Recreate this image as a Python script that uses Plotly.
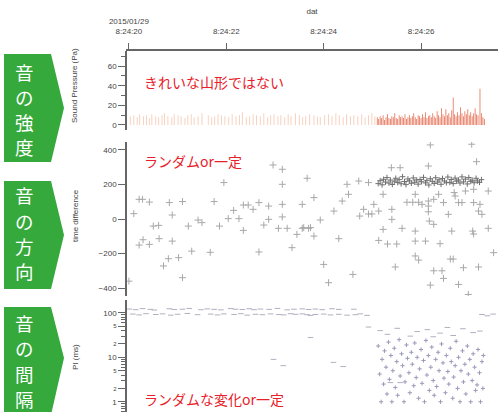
import plotly.graph_objects as go

# ---------------- data ----------------
tick_pos = [20, 22, 24, 26]
tick_labels = ["2015/01/29<br>8:24:20", "8:24:22", "8:24:24", "8:24:26"]

# Sound pressure (Pa) bars, seconds after 8:24:00
sp_t_light = [20.03, 20.10, 20.17, 20.22, 20.30, 20.36, 20.42, 20.47, 20.55, 20.61,
              20.68, 20.73, 20.80, 20.88, 20.93, 21.01, 21.07, 21.15, 21.21, 21.28,
              21.34, 21.42, 21.50, 21.63, 21.70, 21.76, 21.83, 21.90, 21.97, 22.05,
              22.12, 22.20, 22.27, 22.33, 22.41, 22.48, 22.55, 22.62, 22.70, 22.77,
              22.85, 22.91, 22.98, 23.06, 23.12, 23.20, 23.27, 23.33, 23.42, 23.50,
              23.57, 23.63, 23.71, 23.80, 23.87, 23.93, 24.02, 24.10, 24.17, 24.25,
              24.32, 24.40, 24.47, 24.55, 24.62, 24.70, 24.78, 24.85, 24.92, 24.99,
              25.05]
sp_h_light = [9, 10, 8, 11, 9, 10, 7, 11, 9, 8,
              10, 12, 9, 8, 11, 10, 9, 7, 10, 11,
              8, 9, 12, 10, 8, 9, 11, 10, 9, 8,
              11, 9, 10, 13, 8, 9, 11, 10, 9, 12,
              8, 10, 11, 9, 10, 8, 11, 9, 12, 10,
              8, 9, 11, 10, 9, 8, 10, 11, 9, 12,
              10, 8, 11, 9, 10, 9, 11, 8, 10, 12,
              9]
sp_t_dark = [25.10, 25.13, 25.16, 25.19, 25.22, 25.25, 25.28, 25.31, 25.34, 25.37,
             25.40, 25.43, 25.46, 25.49, 25.52, 25.55, 25.58, 25.61, 25.64, 25.67,
             25.70, 25.73, 25.76, 25.79, 25.82, 25.85, 25.88, 25.91, 25.94, 25.97,
             26.00, 26.03, 26.06, 26.09, 26.12, 26.15, 26.18, 26.21, 26.24, 26.27,
             26.30, 26.33, 26.36, 26.39, 26.42, 26.45, 26.48, 26.51, 26.54, 26.57,
             26.60, 26.63, 26.66, 26.69, 26.72, 26.75, 26.78, 26.81, 26.84, 26.87,
             26.90, 26.93, 26.96, 26.99, 27.02, 27.05, 27.08, 27.11, 27.14, 27.17,
             27.21, 27.24, 27.27, 27.30]
sp_h_dark = [8, 6, 9, 7, 10, 5, 8, 11, 7, 6,
             9, 8, 12, 7, 6, 10, 8, 9, 7, 11,
             6, 8, 10, 7, 9, 12, 8, 6, 10, 9,
             7, 11, 8, 13, 7, 9, 10, 8, 12, 9,
             7, 14, 10, 8, 17, 11, 9, 16, 10, 12,
             8, 15, 28, 11, 9, 13, 10, 18, 12, 9,
             14, 11, 16, 10, 13, 9, 12, 17, 11, 10,
             37, 12, 8, 6]

# time difference (scattered)
td_t = [20.00, 20.10, 20.21, 20.28, 20.42, 20.21, 20.29, 20.42, 20.50, 20.61,
        20.62, 20.83, 20.89, 20.89, 20.81, 20.71, 21.02, 21.10, 21.10, 21.22,
        21.29, 21.42, 21.50, 21.67, 21.75, 21.86, 21.95, 22.04, 22.15, 22.26,
        22.35, 22.35, 22.45, 22.55, 22.67, 22.67, 22.77, 22.87, 22.87, 22.96,
        23.07, 23.15, 23.15, 23.15, 23.15, 23.25, 23.35, 23.45, 23.56, 23.56,
        23.66, 23.69, 26.19, 27.04, 25.39, 25.57, 26.15, 27.14, 24.48, 24.72,
        24.92, 23.80, 24.51, 24.38, 24.21, 24.82, 24.74, 24.92, 24.99, 25.03,
        25.13, 25.22, 25.40, 25.40, 25.71, 25.83, 25.95, 25.88, 26.02, 26.15,
        26.15, 26.15, 26.17, 26.26, 26.36, 26.46, 26.56, 26.68, 26.70, 26.77,
        26.84, 26.91, 27.08, 27.08, 27.21, 27.18, 27.25, 27.38, 23.93, 23.59,
        23.73, 23.80, 24.31, 25.22, 25.61, 25.88, 26.26, 26.63, 27.06, 27.08,
        27.38, 25.13, 25.31, 25.50, 25.88, 26.09, 26.39, 25.88, 25.95, 26.60,
        26.66, 27.49, 24.00, 24.60, 25.47, 26.26, 26.43, 26.87, 27.18, 24.10,
        26.19, 26.46, 26.77, 26.97]
td_v = [-360, 31, 114, 114, 98, -151, -120, -147, -41, -37,
        -114, 95, 23, -128, -230, -272, -224, 101, -340, -41,
        -186, -6, -21, -193, 101, -41, 211, 2, 50, 2,
        81, -66, 81, 56, 95, -191, -35, 75, -2, 313,
        -54, 288, 201, 85, 12, -54, -166, -89, 85, -54,
        236, -54, 429, 433, 297, 297, 307, 332, 201, 220,
        211, 124, 143, 104, 46, 56, 17, 29, 29, 85,
        46, 143, 56, -2, 97, 97, 97, 143, 85, 104,
        75, 42, -12, 114, 143, 95, 27, 153, 133, 95,
        95, 162, 172, 95, 85, 46, 27, 162, -6, -50,
        -50, -99, -114, -60, -54, -70, -31, -70, -70, -87,
        -54, -124, -145, -145, -128, -128, -143, -214, -238, -232,
        -232, -195, -263, -321, -278, -300, -300, -282, -278, -369,
        -383, -344, -379, -437]

# time difference (dense band)
tdb_t = [25.12, 25.16, 25.20, 25.23, 25.27, 25.30, 25.34, 25.37, 25.41, 25.45,
         25.48, 25.52, 25.55, 25.59, 25.62, 25.66, 25.69, 25.73, 25.76, 25.80,
         25.84, 25.87, 25.91, 25.94, 25.98, 26.01, 26.05, 26.09, 26.12, 26.16,
         26.19, 26.23, 26.27, 26.30, 26.34, 26.37, 26.41, 26.44, 26.48, 26.52,
         26.55, 26.59, 26.62, 26.66, 26.70, 26.73, 26.77, 26.80, 26.84, 26.87,
         26.91, 26.95, 26.98, 27.02, 27.05, 27.09, 27.13, 27.16, 27.20, 27.24]
tdb_v = [205, 222, 198, 230, 214, 240, 208, 226, 200, 219,
         236, 211, 228, 204, 245, 217, 199, 232, 221, 207,
         238, 213, 226, 202, 229, 216, 241, 209, 224, 197,
         233, 218, 206, 239, 214, 227, 201, 235, 220, 210,
         243, 212, 229, 205, 237, 219, 226, 208, 244, 215,
         231, 203, 240, 218, 225, 210, 236, 220, 212, 228]

# pulse interval PI (ms)
pi_t = [20.01, 20.14, 20.28, 20.44, 20.52, 20.83, 20.93, 21.10, 21.24, 21.48,
        21.61, 21.75, 21.89, 22.09, 22.19, 22.33, 22.47, 22.57, 22.70, 22.88,
        23.05, 23.25, 23.39, 23.56, 23.69, 23.83, 23.97, 24.17, 24.31, 24.62,
        20.08, 20.21, 20.35, 20.55, 20.69, 20.86, 21.00, 21.20, 21.41, 21.68,
        21.82, 21.95, 22.16, 22.30, 22.43, 22.60, 22.74, 22.91, 23.08, 23.18,
        23.32, 23.42, 23.66, 23.56, 23.73, 23.83, 24.00, 24.14, 24.31, 24.48,
        24.65, 24.75, 24.89, 27.25, 27.36, 27.48,
        22.97, 23.17, 24.20, 24.40, 23.73, 25.37, 25.57,
        24.92, 25.16, 25.31, 25.51, 25.78, 25.92, 26.13, 26.25, 26.39, 26.54,
        26.66, 26.86, 27.07, 27.21]
pi_v = [122, 118, 125, 120, 116, 124, 119, 121, 126, 118,
        123, 120, 117, 125, 121, 119, 124, 118, 122, 120,
        126, 117, 121, 123, 119, 122, 118, 124, 120, 121,
        94, 90, 96, 92, 95, 89, 93, 97, 91, 94,
        90, 95, 92, 96, 89, 93, 91, 95, 92, 90,
        96, 93, 91, 95, 88, 92, 94, 90, 93, 89,
        91, 95, 88, 92, 86, 94,
        9, 6.5, 7.7, 6.2, 28, 2.7, 2.7,
        48, 40, 33, 45, 30, 38, 42, 29, 35, 47,
        31, 44, 36, 39]

pic_t = [25.12, 25.15, 25.18, 25.20, 25.23, 25.25, 25.28, 25.30, 25.33, 25.35,
         25.38, 25.40, 25.42, 25.45, 25.47, 25.50, 25.52, 25.55, 25.57, 25.60,
         25.62, 25.65, 25.67, 25.70, 25.72, 25.75, 25.77, 25.80, 25.82, 25.85,
         25.87, 25.90, 25.92, 25.95, 25.97, 26.00, 26.02, 26.05, 26.07, 26.10,
         26.12, 26.15, 26.17, 26.20, 26.22, 26.25, 26.27, 26.30, 26.32, 26.35,
         26.37, 26.40, 26.42, 26.45, 26.47, 26.50, 26.52, 26.55, 26.57, 26.60,
         26.62, 26.65, 26.67, 26.70, 26.72, 26.75, 26.77, 26.80, 26.82, 26.85,
         26.87, 26.90, 26.92, 26.95, 26.97, 27.00, 27.02, 27.05, 27.07, 27.10,
         27.12, 27.15, 27.17, 27.20, 27.22, 27.25, 27.27, 27.28]
pic_v = [18, 4.2, 1.0, 9, 2.5, 14, 6, 1.5, 22, 3.2,
         11, 1.0, 5, 16, 2.1, 8, 1.4, 25, 3.8, 12,
         6.5, 1.0, 2.8, 19, 9.5, 4.5, 1.6, 13, 7, 2.3,
         21, 3.5, 10, 1.2, 5.5, 15, 2.6, 8.5, 1.0, 24,
         4, 11, 1.8, 6, 17, 3, 1.4, 9, 2.2, 13,
         5, 1.0, 20, 7.5, 3.4, 1.6, 11, 4.8, 2.5, 16,
         8, 1.2, 3.6, 6.5, 23, 2, 10, 1.0, 5, 14,
         2.8, 7, 1.5, 18, 4.2, 9, 1.0, 3, 12, 6,
         1.8, 2.4, 15, 4.5, 1.0, 8, 2, 11]

# ---------------- geometry helpers (pixel -> paper) ----------------
W, H = 498, 412
ML, MT = 126, 51
PW, PH = W - ML, H - MT


def px(x):
    return (x - ML) / PW


def py(y):
    return (H - y) / PH


fig = go.Figure()

fig.add_trace(go.Bar(x=sp_t_light, y=sp_h_light, width=0.02,
                     marker=dict(color="rgba(240,150,110,0.45)", line_width=0),
                     xaxis="x", yaxis="y", showlegend=False))
fig.add_trace(go.Bar(x=sp_t_dark, y=sp_h_dark, width=0.016,
                     marker=dict(color="rgba(222,70,35,0.8)", line_width=0),
                     xaxis="x", yaxis="y", showlegend=False))

fig.add_trace(go.Scatter(x=td_t, y=td_v, mode="markers", xaxis="x2", yaxis="y2",
                         marker=dict(symbol="cross-thin", size=5,
                                     line=dict(width=1, color="#a8a8a8")),
                         showlegend=False))
fig.add_trace(go.Scatter(x=tdb_t, y=tdb_v, mode="markers", xaxis="x2", yaxis="y2",
                         marker=dict(symbol="cross-thin", size=4,
                                     line=dict(width=1, color="#707070")),
                         showlegend=False))

fig.add_trace(go.Scatter(x=pi_t, y=pi_v, mode="markers", xaxis="x3", yaxis="y3",
                         marker=dict(symbol="line-ew", size=4,
                                     line=dict(width=1, color="#b0b0c0")),
                         showlegend=False))
fig.add_trace(go.Scatter(x=pic_t, y=pic_v, mode="markers", xaxis="x3", yaxis="y3",
                         marker=dict(symbol="cross-thin", size=3,
                                     line=dict(width=1, color="#9a9ab8")),
                         showlegend=False))

xr = [19.94, 27.58]
axfont = dict(family="Liberation Sans, Arial", size=8, color="#444")
yline = dict(showline=True, linecolor="#666", linewidth=1.5, ticks="outside",
             ticklen=7, tickcolor="#666", tickfont=axfont, showgrid=False,
             zeroline=False, anchor="free", position=0)

fig.update_layout(
    width=W, height=H,
    margin=dict(l=ML, r=0, t=MT, b=0),
    paper_bgcolor="white", plot_bgcolor="white",
    barmode="overlay",
    font=dict(family="Liberation Sans, Arial", size=8, color="#444"),
    xaxis=dict(domain=[0, 1], range=xr, side="top", anchor="y",
               showline=True, linecolor="#666", linewidth=1.5,
               ticks="outside", ticklen=6, tickcolor="#666",
               tickvals=tick_pos, ticktext=tick_labels, tickfont=axfont,
               ticklabelstandoff=6,
               showgrid=False, zeroline=False,
               title=dict(text="dat", font=dict(size=8, color="#444"), standoff=1)),
    xaxis2=dict(matches="x", range=xr, visible=False, anchor="y2"),
    xaxis3=dict(matches="x", range=xr, visible=False, anchor="y3"),
    yaxis=dict(domain=[py(130), 1], range=[-5.1, 75.3], tickvals=[0, 20, 40, 60],
               minor=dict(dtick=10, ticklen=4, ticks="outside", tickcolor="#666"),
               **yline),
    yaxis2=dict(domain=[py(296), py(142)], range=[-446, 446],
                tickvals=[-400, -200, 0, 200, 400], **yline),
    yaxis3=dict(domain=[0, py(300)], type="log", range=[-0.23, 2.29],
                dtick="D2",
                minor=dict(dtick="D1", ticklen=4, ticks="outside", tickcolor="#666"),
                **yline),
)

ann = []
# y axis titles
for txt, yc in [("Sound Pressure (Pa)", 86), ("time difference", 216), ("PI (ms)", 357)]:
    ann.append(dict(text=txt, x=px(75), y=py(yc), xref="paper", yref="paper",
                    textangle=-90, showarrow=False, xanchor="center", yanchor="middle",
                    font=dict(size=8, color="#444", family="Liberation Sans, Arial")))

# red notes
red = "#E8202A"
jp = "Noto Sans CJK JP"
for txt, yc in [("きれいな山形ではない", 82), ("ランダムor一定", 161), ("ランダムな変化or一定", 399)]:
    ann.append(dict(text=txt, x=px(142), y=py(yc), xref="paper", yref="paper",
                    showarrow=False, xanchor="left", yanchor="middle",
                    font=dict(size=14, color=red, family=jp)))

# green vertical labels (one character per line)
labels = [("音の強度", [72, 97, 122, 147]),
          ("音の方向", [195, 221, 246, 271]),
          ("音の間隔", [323, 348, 374, 399])]
for word, ys in labels:
    for ch, yc in zip(word, ys):
        ann.append(dict(text=ch, x=px(24), y=py(yc), xref="paper", yref="paper",
                        showarrow=False, xanchor="center", yanchor="middle",
                        borderpad=0,
                        font=dict(size=18.5, color="white", family=jp)))

shapes = []
green = "#35A93B"
for top, bot in [(54, 162), (181, 289), (307, 415)]:
    mid = (top + bot) / 2 if bot < 412 else 358
    path = (f"M {px(4)},{py(top)} L {px(51)},{py(top)} L {px(64)},{py(mid)} "
            f"L {px(51)},{py(bot)} L {px(4)},{py(bot)} Z")
    shapes.append(dict(type="path", path=path, xref="paper", yref="paper",
                       fillcolor=green, line=dict(width=0), layer="below"))

fig.update_layout(annotations=ann, shapes=shapes)
fig.write_html("out.html",
               config={"displayModeBar": False},
               post_script="document.body.style.margin='0px';"
                           "document.body.style.overflow='hidden';")
